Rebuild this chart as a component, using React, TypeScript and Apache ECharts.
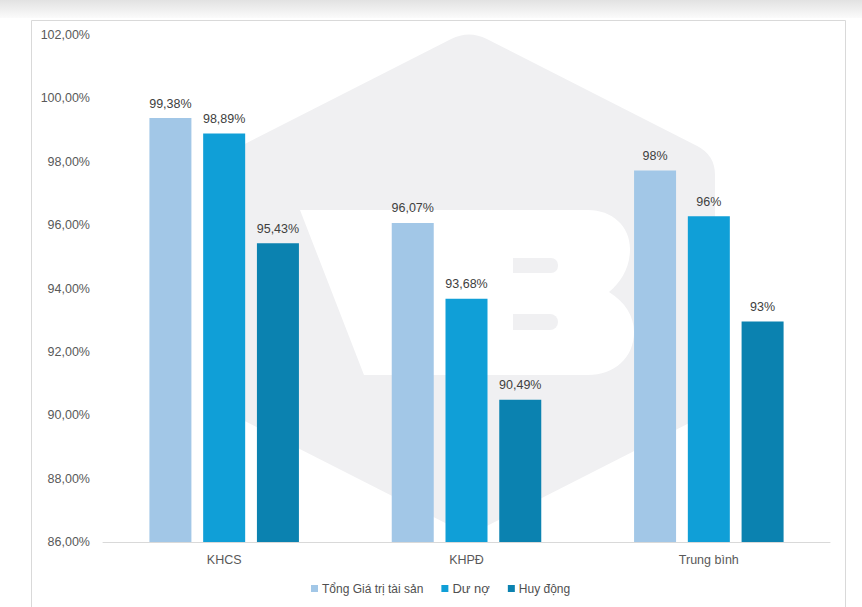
import React, { useEffect, useRef } from "react";
import * as echarts from "echarts";

const categories = ["KHCS", "KHPĐ", "Trung bình"];
const seriesNames = ["Tổng Giá trị tài sản", "Dư nợ", "Huy động"];
const tongGiaTri = [99.38, 96.07, 97.72];
const duNo = [98.89, 93.68, 96.28];
const huyDong = [95.43, 90.49, 92.96];
const tongGiaTriLabels = ["99,38%", "96,07%", "98%"];
const duNoLabels = ["98,89%", "93,68%", "96%"];
const huyDongLabels = ["95,43%", "90,49%", "93%"];
const yMin = 86;
const yMax = 102;
const yStep = 2;

const colors = ["#A2C7E7", "#109FD7", "#0B82B0"];
const FONT = "'Liberation Sans', Arial, sans-serif";

function roundedPolyPath(pts: number[][], r: number): string {
  const n = pts.length;
  let d = "";
  for (let i = 0; i < n; i++) {
    const p = pts[i];
    const prev = pts[(i - 1 + n) % n];
    const next = pts[(i + 1) % n];
    const v1 = [prev[0] - p[0], prev[1] - p[1]];
    const v2 = [next[0] - p[0], next[1] - p[1]];
    const l1 = Math.hypot(v1[0], v1[1]);
    const l2 = Math.hypot(v2[0], v2[1]);
    const a = [p[0] + (v1[0] / l1) * r, p[1] + (v1[1] / l1) * r];
    const b = [p[0] + (v2[0] / l2) * r, p[1] + (v2[1] / l2) * r];
    d += (i === 0 ? "M" : "L") + a[0].toFixed(2) + " " + a[1].toFixed(2) + " ";
    d += "Q" + p[0] + " " + p[1] + " " + b[0].toFixed(2) + " " + b[1].toFixed(2) + " ";
  }
  return d + "Z";
}

let registered = false;
function registerShapes() {
  if (registered) return;
  registered = true;
  const hex = roundedPolyPath(
    [
      [469, 30],
      [715, 155],
      [715, 410],
      [469, 535],
      [223, 410],
      [223, 155],
    ],
    20
  );
  echarts.graphic.registerShape("hexbg", echarts.graphic.extendPath(hex, {}));
  const vb =
    "M300 210 L588 210 C612 210 630 226 630 249 C630 268 621 282 609 292 C625 302 634 316 634 332 C634 358 614 375 588 375 L364 375 Z";
  echarts.graphic.registerShape("vbshape", echarts.graphic.extendPath(vb, {}));
}

function labelFn(labels: string[]) {
  return (p: any) => labels[p.dataIndex];
}

export default function App() {
  const ref = useRef<HTMLDivElement>(null);
  useEffect(() => {
    if (!ref.current) return;
    registerShapes();
    const chart = echarts.init(ref.current, null, { renderer: "svg" });
    const labelStyle = {
      show: true,
      position: "top" as const,
      distance: 8,
      color: "#404040",
      fontSize: 12.5,
      fontFamily: FONT,
    };
    const values = [tongGiaTri, duNo, huyDong];
    const labels = [tongGiaTriLabels, duNoLabels, huyDongLabels];
    chart.setOption({
      animation: false,
      backgroundColor: "#ffffff",
      graphic: [
        {
          type: "rect",
          z: -10,
          silent: true,
          shape: { x: 0, y: 0, width: 862, height: 18 },
          style: {
            fill: new echarts.graphic.LinearGradient(0, 0, 0, 1, [
              { offset: 0, color: "#e2e2e2" },
              { offset: 1, color: "#fbfbfb" },
            ]),
          },
        },
        {
          type: "rect",
          z: -10,
          silent: true,
          shape: { x: 31.5, y: 20.5, width: 814, height: 600 },
          style: { fill: "#ffffff", stroke: "#d9d9d9", lineWidth: 1 },
        },
        {
          type: "hexbg",
          z: -9,
          silent: true,
          x: 0,
          y: 0,
          style: { fill: "#f0f0f2" },
        },
        {
          type: "vbshape",
          z: -8,
          silent: true,
          x: 0,
          y: 0,
          style: { fill: "#ffffff" },
        },
        {
          type: "rect",
          z: -7,
          silent: true,
          shape: { x: 513, y: 258, width: 45, height: 15, r: [0, 7, 7, 0] },
          style: { fill: "#f0f0f2" },
        },
        {
          type: "rect",
          z: -7,
          silent: true,
          shape: { x: 513, y: 314, width: 45, height: 16, r: [0, 8, 8, 0] },
          style: { fill: "#f0f0f2" },
        },
      ],
      legend: {
        left: 311,
        top: 582,
        padding: 0,
        itemWidth: 7,
        itemHeight: 7,
        itemGap: 18,
        icon: "rect",
        textStyle: { color: "#505050", fontSize: 12, fontFamily: FONT, padding: [0, 0, 0, -1] },
        data: [
          { name: seriesNames[0] },
          { name: seriesNames[1], textStyle: { fontSize: 13 } },
          { name: seriesNames[2] },
        ],
      },
      grid: { left: 103, right: 32, top: 35, bottom: 65, containLabel: false },
      xAxis: {
        type: "category",
        data: categories,
        axisLine: { show: true, lineStyle: { color: "#d9d9d9", width: 1 } },
        axisTick: { show: false },
        axisLabel: {
          color: "#595959",
          fontSize: 12.5,
          fontFamily: FONT,
          margin: 11,
        },
      },
      yAxis: {
        type: "value",
        min: yMin,
        max: yMax,
        interval: yStep,
        axisLine: { show: false },
        axisTick: { show: false },
        splitLine: { show: false },
        axisLabel: {
          color: "#595959",
          fontSize: 12.5,
          fontFamily: FONT,
          margin: 13,
          formatter: (v: number) => v.toFixed(2).replace(".", ",") + "%",
        },
      },
      series: seriesNames.map((name, i) => ({
        name,
        type: "bar",
        data: values[i],
        barWidth: 42,
        barGap: "28%",
        itemStyle: { color: colors[i] },
        label: { ...labelStyle, formatter: labelFn(labels[i]) },
      })),
    });
    return () => chart.dispose();
  }, []);
  return (
    <div
      ref={ref}
      style={{ position: "absolute", left: 0, top: 0, width: 862, height: 607 }}
    />
  );
}
